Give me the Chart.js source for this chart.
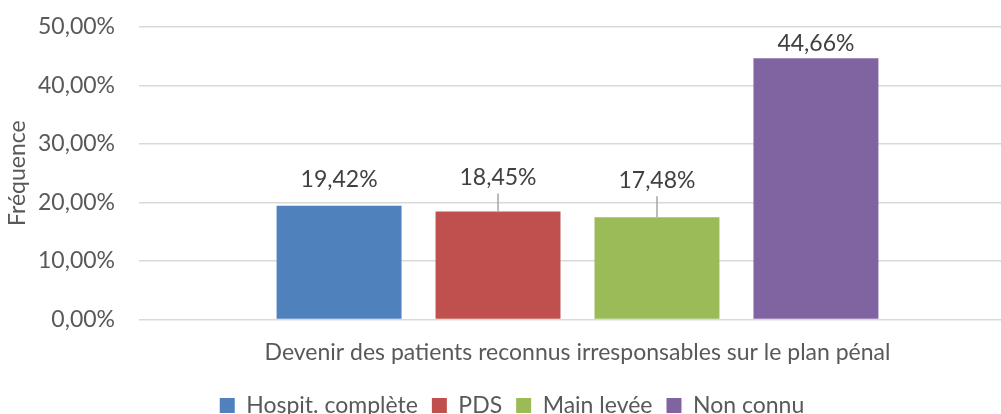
<!DOCTYPE html>
<html>
<head>
<meta charset="utf-8">
<script src="https://cdn.jsdelivr.net/npm/chart.js@4/dist/chart.umd.min.js"></script>
<style>
  html, body { margin: 0; padding: 0; background: #fff; overflow: hidden; }
  #wrap { width: 1024px; height: 427px; }
</style>
</head>
<body>
<div id="wrap"><canvas id="grafico"></canvas></div>
<script>
// données du graphique
const categories = ['Devenir des patients reconnus irresponsables sur le plan pénal'];
const series = ['Hospit. complète', 'PDS', 'Main levée', 'Non connu'];
const valeurs = [0.1942, 0.1845, 0.1748, 0.4466];
const yTicks = [0, 0.1, 0.2, 0.3, 0.4, 0.5];

const couleurs = ['#4F81BD', '#C0504D', '#9BBB59', '#8064A2'];
const police = 'Lato, "Liberation Sans", sans-serif';

// format français : 19,42%
function pct(v) {
   return (v * 100).toFixed(2).replace('.', ',') + '%';
}

// étiquettes de données (décalées comme dans Excel, avec traits de rappel)
const etiquettes = {
   id: 'etiquettes',
   afterDatasetsDraw(chart, args, opts) {
      const ctx = chart.ctx;
      ctx.save();
      ctx.font = '23px ' + police;
      ctx.fillStyle = '#404040';
      ctx.textAlign = 'center';
      ctx.textBaseline = 'middle';
      chart.data.datasets.forEach((ds, i) => {
         const bar = chart.getDatasetMeta(i).data[0];
         const yTxt = bar.y - opts.lift[i];
         if (opts.leader[i]) {
            ctx.strokeStyle = '#A6A6A6';
            ctx.lineWidth = 1.5;
            ctx.beginPath();
            ctx.moveTo(bar.x, yTxt + 16);
            ctx.lineTo(bar.x, bar.y);
            ctx.stroke();
         }
         ctx.fillText(pct(ds.data[0]), bar.x, yTxt);
      });
      ctx.restore();
   }
};

const ctx = document.getElementById('grafico').getContext('2d');
new Chart(ctx, {
   type: 'bar',
   data: {
      labels: categories,
      datasets: series.map((nom, i) => ({
         label: nom,
         data: [valeurs[i]],
         backgroundColor: couleurs[i],
         borderWidth: 0,
         categoryPercentage: 0.725,
         barPercentage: 0.786
      }))
   },
   options: {
      responsive: true,
      maintainAspectRatio: false,
      animation: false,
      layout: { padding: { top: 27, right: 8, left: 8, bottom: 0 } },
      plugins: {
         tooltip: { enabled: false },
         legend: {
            position: 'bottom',
            labels: {
               boxWidth: 15,
               boxHeight: 15,
               padding: 14,
               color: '#595959',
               font: { family: police, size: 23 }
            }
         },
         etiquettes: {
            lift: [26, 34, 37, 15],
            leader: [false, true, true, false]
         }
      },
      scales: {
         x: {
            grid: { display: false },
            border: { display: false },
            afterFit: s => { s.height += 3; },
            ticks: {
               color: '#595959',
               padding: 11,
               font: { family: police, size: 23 }
            }
         },
         y: {
            min: 0,
            max: 0.5,
            afterBuildTicks: s => { s.ticks = yTicks.map(v => ({ value: v })); },
            afterFit: s => { s.width = 131; s.paddingTop = 0; s.paddingBottom = 0; },
            grid: { color: '#D9D9D9', lineWidth: 1.5, drawTicks: false },
            border: { display: false },
            ticks: {
               color: '#595959',
               padding: 24,
               font: { family: police, size: 23 },
               callback: v => pct(v)
            },
            title: {
               display: true,
               text: 'Fréquence',
               color: '#595959',
               padding: { top: -4, bottom: 0 },
               font: { family: police, size: 23, weight: 'normal' }
            }
         }
      }
   },
   plugins: [etiquettes]
});
</script>
</body>
</html>
